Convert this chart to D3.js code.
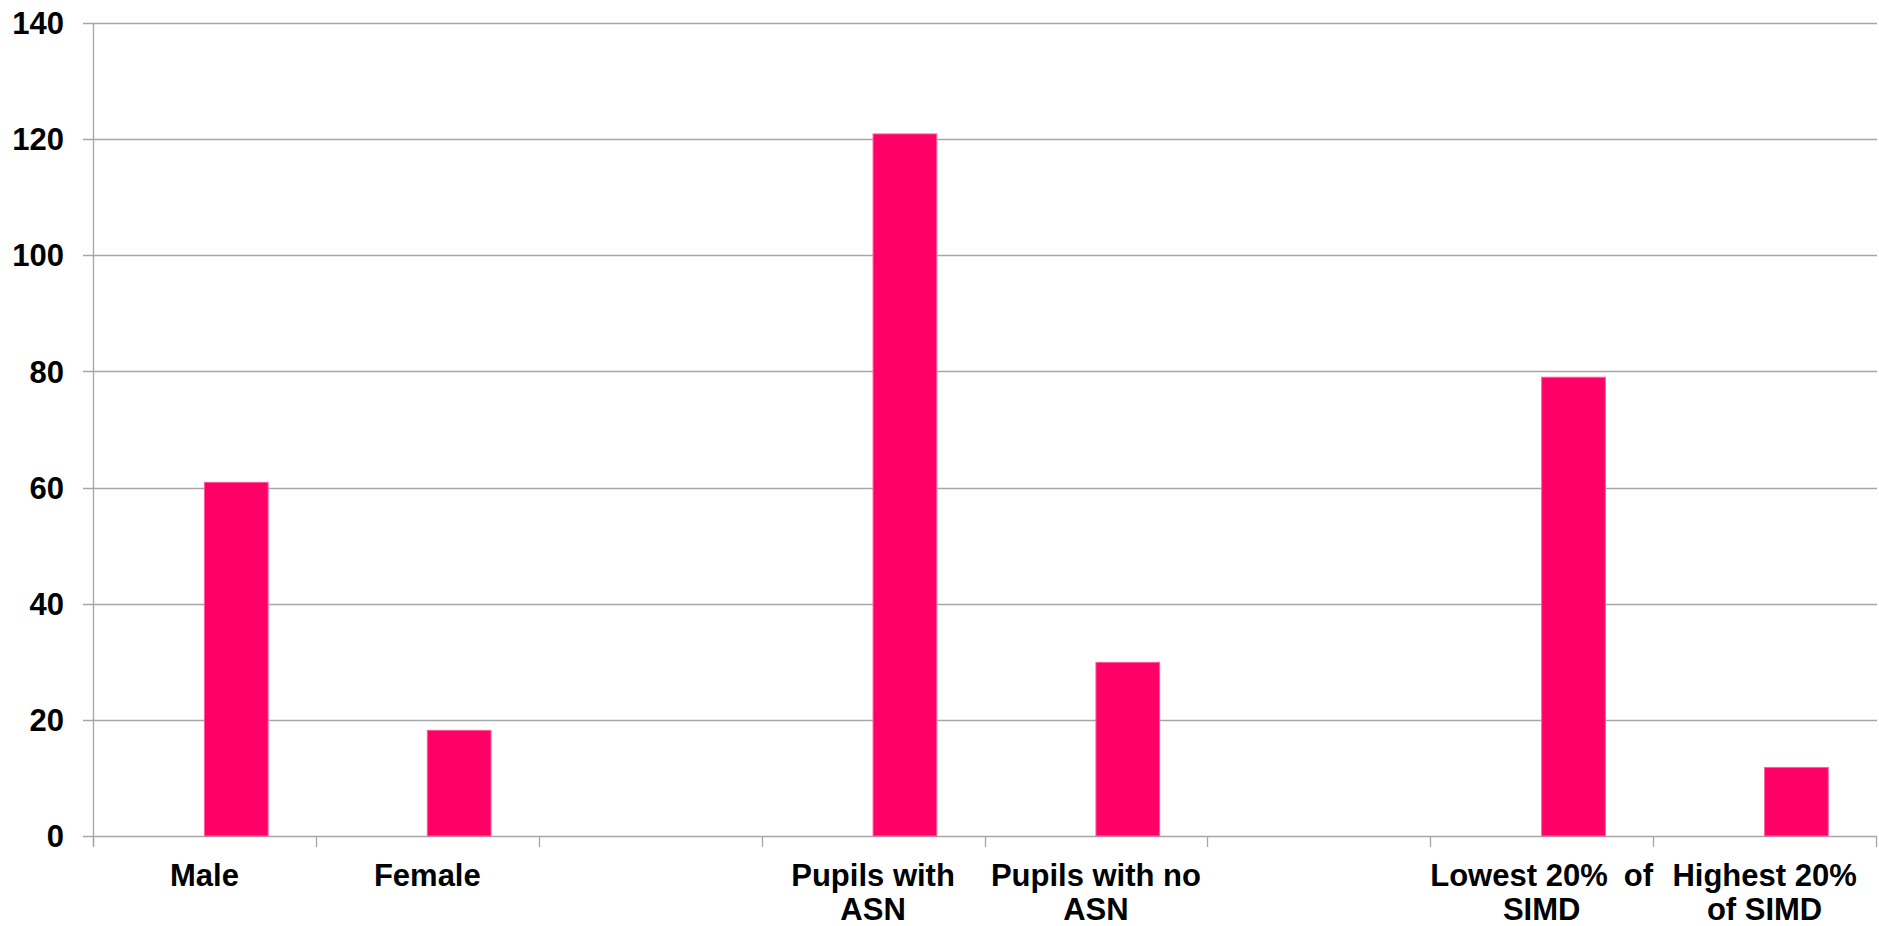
<!DOCTYPE html>
<html>
<head>
<meta charset="utf-8">
<script src="https://cdn.jsdelivr.net/npm/d3@7"></script>
<style>
  html, body { margin: 0; padding: 0; background: #ffffff; }
  svg { display: block; }
  text { font-family: "Liberation Sans", Arial, sans-serif; font-weight: bold; fill: #000; }
</style>
</head>
<body>
<svg id="chart" width="1879" height="926"></svg>
<script>
// Category slots along the x axis (blank slots separate the groups)
const categories = ["Male", "Female", "gap1", "Pupils with ASN", "Pupils with no ASN", "gap2", "Lowest 20% of SIMD", "Highest 20% of SIMD"];
// Wrapped label lines for each slot
const labelLines = [["Male"], ["Female"], [], ["Pupils with", "ASN"], ["Pupils with no", "ASN"], [], [["Lowest 20%", "of"], "SIMD"], ["Highest 20%", "of SIMD"]];
// Rates per category (null = empty slot)
const rates = [60.9, 18.2, null, 120.9, 29.9, null, 79.0, 11.8];
// Clustered layout: an empty leading series and the plotted series
const seriesKeys = ["empty", "rate"];
const yTicks = [0, 20, 40, 60, 80, 100, 120, 140];

const svg = d3.select("#chart");
const plotLeft = 93, plotRight = 1876, plotTop = 23, plotBottom = 836;

const x = d3.scaleBand().domain(categories).range([plotLeft, plotRight]).paddingInner(0).paddingOuter(0);
const xSub = d3.scaleBand().domain(seriesKeys).range([0, x.bandwidth()]).paddingInner(0).paddingOuter(0.75);
const y = d3.scaleLinear().domain([0, 140]).range([plotBottom, plotTop]);

const grey = "#a6a6a6";

// Horizontal gridlines with short tick marks left of the axis
svg.append("g")
  .selectAll("line")
  .data(yTicks)
  .join("line")
  .attr("x1", plotLeft - 10)
  .attr("x2", plotRight + 1)
  .attr("y1", d => Math.round(y(d)) + 0.5)
  .attr("y2", d => Math.round(y(d)) + 0.5)
  .attr("stroke", grey)
  .attr("stroke-width", 1.3);

// Y-axis line
svg.append("line")
  .attr("x1", plotLeft + 0.5).attr("x2", plotLeft + 0.5)
  .attr("y1", plotTop).attr("y2", plotBottom + 10)
  .attr("stroke", grey).attr("stroke-width", 1.3);

// Y tick labels
svg.append("g")
  .selectAll("text")
  .data(yTicks)
  .join("text")
  .attr("x", 64)
  .attr("y", d => y(d))
  .attr("dy", "0.36em")
  .attr("text-anchor", "end")
  .style("font-size", "31px")
  .text(d => d);

// X-axis tick marks at slot boundaries
const boundaries = categories.map(c => x(c)).concat([plotRight]);
svg.append("g")
  .selectAll("line")
  .data(boundaries)
  .join("line")
  .attr("x1", d => Math.round(d) + 0.5)
  .attr("x2", d => Math.round(d) + 0.5)
  .attr("y1", plotBottom)
  .attr("y2", plotBottom + 11)
  .attr("stroke", grey)
  .attr("stroke-width", 1.3);

// Bars
svg.append("g")
  .selectAll("rect")
  .data(categories.map((c, i) => ({ c, v: rates[i] })).filter(d => d.v !== null))
  .join("rect")
  .attr("x", d => x(d.c) + xSub("rate"))
  .attr("width", xSub.bandwidth())
  .attr("y", d => y(d.v))
  .attr("height", d => y(0) - y(d.v))
  .attr("fill", "#ff0066")
  .attr("stroke", "#ff5c99")
  .attr("stroke-width", 1);

// Category labels
const baseline1 = 886, lineGap = 34;
categories.forEach((c, i) => {
  const cx = x(c) + x.bandwidth() / 2;
  labelLines[i].forEach((line, j) => {
    const t = svg.append("text")
      .attr("y", baseline1 + j * lineGap)
      .style("font-size", "31px");
    if (Array.isArray(line)) {
      // justified line: first words at slot start, last word at slot end
      t.append("tspan").attr("x", x(c)).attr("text-anchor", "start").text(line[0]);
      t.append("tspan").attr("x", x(c) + x.bandwidth()).attr("text-anchor", "end").text(line[1]);
    } else {
      t.attr("x", cx).attr("text-anchor", "middle").text(line);
    }
  });
});
</script>
</body>
</html>
